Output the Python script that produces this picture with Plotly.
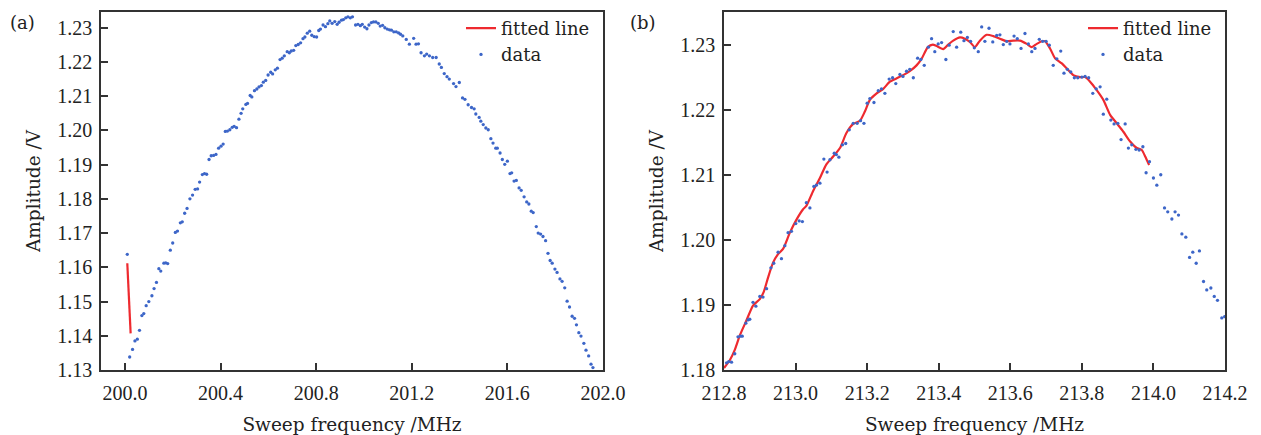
import plotly.graph_objects as go

# ---------------- Panel (a) data ----------------
a_freq = [200.010, 200.020, 200.032, 200.042, 200.052, 200.061, 200.071, 200.079, 200.089, 200.100,
          200.113, 200.122, 200.132, 200.142, 200.150, 200.163, 200.171, 200.179, 200.190, 200.200,
          200.211, 200.220, 200.232, 200.240, 200.250, 200.260, 200.272, 200.283, 200.294, 200.304,
          200.3125, 200.324, 200.333, 200.342, 200.352, 200.361, 200.371, 200.381, 200.392, 200.402,
          200.411, 200.420, 200.429, 200.439, 200.449, 200.457, 200.467, 200.477, 200.486, 200.493,
          200.506, 200.513, 200.524, 200.531, 200.542, 200.552, 200.561, 200.571, 200.579, 200.589,
          200.599, 200.610, 200.618, 200.629, 200.638, 200.649, 200.658, 200.667, 200.679, 200.688,
          200.696, 200.706, 200.715, 200.725, 200.735, 200.745, 200.753, 200.763, 200.773, 200.782,
          200.792, 200.802, 200.811, 200.818, 200.829, 200.839, 200.849, 200.857, 200.867, 200.878,
          200.888, 200.896, 200.906, 200.914, 200.924, 200.933, 200.943, 200.952, 200.965, 200.975,
          200.985, 200.993, 201.003, 201.0125, 201.021, 201.031, 201.040, 201.050, 201.060, 201.068,
          201.078, 201.0875, 201.0975, 201.107, 201.115, 201.125, 201.135, 201.145, 201.153, 201.1625,
          201.177, 201.190, 201.208, 201.218, 201.228, 201.239, 201.253, 201.2625, 201.274, 201.2875,
          201.302, 201.315, 201.324, 201.336, 201.3475, 201.357, 201.375, 201.385, 201.399, 201.4125,
          201.4225, 201.436, 201.450, 201.461, 201.468, 201.482, 201.489, 201.499, 201.510, 201.520,
          201.531, 201.540, 201.5515, 201.558, 201.5695, 201.579, 201.589, 201.600, 201.611, 201.618,
          201.628, 201.6375, 201.649, 201.658, 201.670, 201.681, 201.690, 201.700, 201.708, 201.721,
          201.729, 201.739, 201.749, 201.760, 201.770, 201.779, 201.7875, 201.799, 201.808, 201.820,
          201.829, 201.840, 201.850, 201.860, 201.871, 201.881, 201.889, 201.899, 201.908, 201.920,
          201.929, 201.940, 201.950, 201.958]
a_amp = [1.1638, 1.1338, 1.1360, 1.1385, 1.1390, 1.1416, 1.1459, 1.1465, 1.1488, 1.1500,
         1.1517, 1.1538, 1.1556, 1.1596, 1.1589, 1.1612, 1.1613, 1.1611, 1.1650, 1.1671,
         1.1702, 1.1706, 1.1730, 1.1733, 1.1758, 1.1772, 1.1800, 1.1811, 1.1828, 1.1829,
         1.1849, 1.1871, 1.1874, 1.1872, 1.1915, 1.1926, 1.1927, 1.1930, 1.1948, 1.1954,
         1.1960, 1.1997, 1.1998, 1.2002, 1.2009, 1.2012, 1.2008, 1.2033, 1.2050, 1.2063,
         1.2076, 1.2079, 1.2102, 1.2098, 1.2116, 1.2121, 1.2127, 1.2131, 1.2141, 1.2146,
         1.2162, 1.2170, 1.2165, 1.2177, 1.2182, 1.2207, 1.2211, 1.2218, 1.2230, 1.2227,
         1.2232, 1.2234, 1.2248, 1.2251, 1.2256, 1.2268, 1.2273, 1.2284, 1.2290, 1.2278,
         1.2274, 1.2273, 1.2292, 1.2296, 1.2308, 1.2303, 1.2312, 1.2320, 1.2313, 1.2318,
         1.2310, 1.2316, 1.2322, 1.2324, 1.2329, 1.2332, 1.2329, 1.2332, 1.2308, 1.2310,
         1.2306, 1.2310, 1.2302, 1.2297, 1.2308, 1.2315, 1.2317, 1.2317, 1.2313, 1.2305,
         1.2307, 1.2300, 1.2296, 1.2294, 1.2293, 1.2288, 1.2288, 1.2285, 1.2281, 1.2276,
         1.2266, 1.2252, 1.2269, 1.2252, 1.2253, 1.2227, 1.2218, 1.2223, 1.2218, 1.2213,
         1.2213, 1.2194, 1.2184, 1.2166, 1.2157, 1.2150, 1.2137, 1.2128, 1.2140, 1.2095,
         1.2091, 1.2075, 1.2067, 1.2063, 1.2048, 1.2038, 1.2027, 1.2017, 1.2007, 1.2002,
         1.1976, 1.1963, 1.1948, 1.1948, 1.1934, 1.1915, 1.1901, 1.1910, 1.1874, 1.1876,
         1.1852, 1.1854, 1.1832, 1.1825, 1.1806, 1.1791, 1.1785, 1.1764, 1.1760, 1.1719,
         1.1700, 1.1697, 1.1690, 1.1678, 1.1641, 1.1620, 1.1612, 1.1595, 1.1585, 1.1566,
         1.1559, 1.1540, 1.1501, 1.1484, 1.1457, 1.1451, 1.1432, 1.1409, 1.1399, 1.1378,
         1.1358, 1.1341, 1.1317, 1.1307]
a_fit_freq = [200.010, 200.017, 200.024]
a_fit_amp = [1.1612, 1.1505, 1.1407]

# ---------------- Panel (b) data ----------------
b_freq = [212.807, 212.813, 212.821, 212.830, 212.839, 212.846, 212.851, 212.861, 212.867, 212.872,
          212.881, 212.889, 212.900, 212.909, 212.919, 212.931, 212.939, 212.951, 212.9605, 212.970,
          212.979, 212.9885, 213.0005, 213.010, 213.019, 213.030, 213.040, 213.051, 213.058, 213.068,
          213.079, 213.088, 213.096, 213.108, 213.114, 213.121, 213.131, 213.140, 213.150, 213.161,
          213.172, 213.1815, 213.191, 213.200, 213.2075, 213.219, 213.231, 213.240, 213.2495, 213.2615,
          213.271, 213.280, 213.2915, 213.300, 213.310, 213.319, 213.329, 213.341, 213.350, 213.3595,
          213.371, 213.380, 213.389, 213.3985, 213.408, 213.420, 213.429, 213.4405, 213.450, 213.4615,
          213.4705, 213.480, 213.489, 213.4995, 213.5105, 213.520, 213.529, 213.5405, 213.551, 213.562,
          213.571, 213.5805, 213.590, 213.599, 213.6105, 213.6195, 213.630, 213.641, 213.6505, 213.660,
          213.669, 213.681, 213.6905, 213.700, 213.709, 213.720, 213.730, 213.741, 213.750, 213.7595,
          213.769, 213.779, 213.7885, 213.800, 213.809, 213.819, 213.8305, 213.840, 213.851, 213.860,
          213.8695, 213.881, 213.890, 213.9005, 213.9095, 213.921, 213.930, 213.9395, 213.951, 213.960,
          213.9705, 213.9795, 213.989, 214.000, 214.0095, 214.0205, 214.031, 214.040, 214.0515, 214.0605,
          214.070, 214.0795, 214.0905, 214.101, 214.110, 214.1195, 214.1285, 214.140, 214.149, 214.1605,
          214.170, 214.179, 214.191, 214.199]
b_amp = [1.1811, 1.1813, 1.1812, 1.1825, 1.1851, 1.1852, 1.1852, 1.1872, 1.1877, 1.1878,
         1.1904, 1.1898, 1.1913, 1.1912, 1.1925, 1.1957, 1.1964, 1.1981, 1.1971, 1.1991,
         1.2011, 1.2013, 1.2025, 1.2029, 1.2028, 1.2057, 1.2049, 1.2082, 1.2084, 1.2087,
         1.2124, 1.2104, 1.2123, 1.2133, 1.2131, 1.2127, 1.2146, 1.2148, 1.2169, 1.2179,
         1.2179, 1.2183, 1.2179, 1.2210, 1.2217, 1.2211, 1.2229, 1.2232, 1.2225, 1.2247,
         1.2249, 1.2240, 1.2254, 1.2251, 1.2259, 1.2262, 1.2249, 1.2279, 1.2277, 1.2268,
         1.2296, 1.2309, 1.2289, 1.2301, 1.2303, 1.2277, 1.2299, 1.2320, 1.2296, 1.2319,
         1.2306, 1.2311, 1.2305, 1.2295, 1.2289, 1.2327, 1.2305, 1.2325, 1.2304, 1.2314,
         1.2315, 1.2300, 1.2305, 1.2301, 1.2313, 1.2309, 1.2294, 1.2317, 1.2301, 1.2289,
         1.2294, 1.2308, 1.2305, 1.2305, 1.2299, 1.2268, 1.2278, 1.2290, 1.2256, 1.2262,
         1.2258, 1.2249, 1.2249, 1.2250, 1.2251, 1.2249, 1.2225, 1.2232, 1.2235, 1.2193,
         1.2216, 1.2184, 1.2178, 1.2179, 1.2154, 1.2178, 1.2141, 1.2146, 1.2139, 1.2138,
         1.2143, 1.2103, 1.2120, 1.2095, 1.2084, 1.2100, 1.2049, 1.2043, 1.2032, 1.2043,
         1.2038, 1.2009, 1.2004, 1.1973, 1.1981, 1.1964, 1.1983, 1.1936, 1.1923, 1.1926,
         1.1913, 1.1907, 1.1880, 1.1882]
b_fit_freq = [212.800, 212.816, 212.830, 212.844, 212.8625, 212.881, 212.900, 212.911, 212.923, 212.937,
              212.951, 212.965, 212.984, 213.0025, 213.021, 213.030, 213.049, 213.068, 213.086, 213.105,
              213.124, 213.142, 213.161, 213.180, 213.1935, 213.2075, 213.2265, 213.245, 213.2635, 213.282,
              213.3005, 213.319, 213.338, 213.352, 213.3695, 213.3835, 213.393, 213.4125, 213.4265, 213.4405,
              213.4595, 213.473, 213.487, 213.501, 213.515, 213.534, 213.5525, 213.571, 213.590, 213.6085,
              213.627, 213.646, 213.660, 213.674, 213.688, 213.697, 213.711, 213.725, 213.744, 213.758,
              213.776, 213.795, 213.809, 213.823, 213.8415, 213.860, 213.879, 213.8975, 213.916, 213.935,
              213.9535, 213.9675, 213.977, 213.988]
b_fit_amp = [1.1803, 1.1815, 1.1831, 1.1853, 1.1876, 1.1899, 1.1909, 1.1920, 1.1942, 1.1965,
             1.1978, 1.1986, 1.2011, 1.2031, 1.2047, 1.2052, 1.2075, 1.2095, 1.2116, 1.2128,
             1.2141, 1.2164, 1.2178, 1.2183, 1.2197, 1.2215, 1.2225, 1.2232, 1.2243, 1.2248,
             1.2253, 1.2259, 1.2268, 1.2278, 1.2296, 1.2300, 1.2298, 1.2293, 1.2300, 1.2306,
             1.2311, 1.2309, 1.2304, 1.2296, 1.2306, 1.2315, 1.2313, 1.2309, 1.2305, 1.2306,
             1.2306, 1.2301, 1.2296, 1.2301, 1.2305, 1.2305, 1.2294, 1.2279, 1.2271, 1.2263,
             1.2253, 1.2250, 1.2250, 1.2243, 1.2230, 1.2215, 1.2192, 1.2179, 1.2166, 1.2151,
             1.2141, 1.2138, 1.2128, 1.2115]

a_xticks = [200.0, 200.4, 200.8, 201.2, 201.6, 202.0]
b_xticks = [212.8, 213.0, 213.2, 213.4, 213.6, 213.8, 214.0, 214.2]
a_yticks = [1.13, 1.14, 1.15, 1.16, 1.17, 1.18, 1.19, 1.20, 1.21, 1.22, 1.23]
b_yticks = [1.18, 1.19, 1.20, 1.21, 1.22, 1.23]

FONT = "DejaVu Serif"
TICKFONT = "Liberation Serif"
RED = "#ee2a2f"
BLUE = "#3d66c8"
AX = "#333333"
TXT = "#222222"

fig = go.Figure()
fig.add_trace(go.Scatter(x=a_fit_freq, y=a_fit_amp, mode="lines", name="fitted line",
                         line=dict(color=RED, width=2.2), xaxis="x", yaxis="y", legend="legend"))
fig.add_trace(go.Scatter(x=a_freq, y=a_amp, mode="markers", name="data",
                         marker=dict(color=BLUE, size=3.3), xaxis="x", yaxis="y", legend="legend"))
fig.add_trace(go.Scatter(x=b_fit_freq, y=b_fit_amp, mode="lines", name="fitted line",
                         line=dict(color=RED, width=2.2, shape="spline", smoothing=0.6),
                         xaxis="x2", yaxis="y2", legend="legend2"))
fig.add_trace(go.Scatter(x=b_freq, y=b_amp, mode="markers", name="data",
                         marker=dict(color=BLUE, size=3.3), xaxis="x2", yaxis="y2", legend="legend2"))

axis_common = dict(showline=True, linecolor=AX, linewidth=1.5, mirror=True, ticks="inside",
                   ticklen=7, tickwidth=1.5, tickcolor=AX, showgrid=False, zeroline=False,
                   automargin=False,
                   tickfont=dict(family=TICKFONT, size=20, color=TXT),
                   title_font=dict(family=FONT, size=18.5, color=TXT))
x_extra = dict(ticklabelstandoff=4, title_standoff=17)
y_extra = dict(ticklabelstandoff=3, title_standoff=12)

fig.update_layout(
    width=1261, height=435,
    margin=dict(l=101, r=36, t=10, b=65),
    paper_bgcolor="white", plot_bgcolor="white",
    showlegend=True,
    xaxis=dict(domain=[0, 0.4466], range=[199.9, 202.0], tickvals=a_xticks,
               ticktext=[f"{v:.1f}" for v in a_xticks], title_text="Sweep frequency /MHz",
               anchor="y", **axis_common, **x_extra),
    yaxis=dict(domain=[0, 1], range=[1.13, 1.2346], tickvals=a_yticks,
               ticktext=[f"{v:.2f}" for v in a_yticks], title_text="Amplitude /V",
               anchor="x", **axis_common, **y_extra),
    xaxis2=dict(domain=[0.5543, 1.0], range=[212.8, 214.2], tickvals=b_xticks,
                ticktext=[f"{v:.1f}" for v in b_xticks], title_text="Sweep frequency /MHz",
                anchor="y2", **axis_common, **x_extra),
    yaxis2=dict(domain=[0, 1], range=[1.18, 1.235], tickvals=b_yticks,
                ticktext=[f"{v:.2f}" for v in b_yticks], title_text="Amplitude /V",
                anchor="x2", **axis_common, **y_extra),
    legend=dict(x=0.4395, y=1.006, xanchor="right", yanchor="top", bgcolor="rgba(0,0,0,0)",
                font=dict(family=FONT, size=18, color=TXT), tracegroupgap=0, itemwidth=30),
    legend2=dict(x=0.9929, y=1.006, xanchor="right", yanchor="top", bgcolor="rgba(0,0,0,0)",
                 font=dict(family=FONT, size=18, color=TXT), tracegroupgap=0, itemwidth=30),
    annotations=[
        dict(text="(a)", x=-0.0827, y=0.972, xref="paper", yref="paper", xanchor="left",
             yanchor="middle", showarrow=False, font=dict(family=FONT, size=18, color=TXT)),
        dict(text="(b)", x=0.4689, y=0.972, xref="paper", yref="paper", xanchor="left",
             yanchor="middle", showarrow=False, font=dict(family=FONT, size=18, color=TXT)),
    ],
)

fig.write_html("out.html", config={"displayModeBar": False},
               post_script="document.body.style.margin='0';")
